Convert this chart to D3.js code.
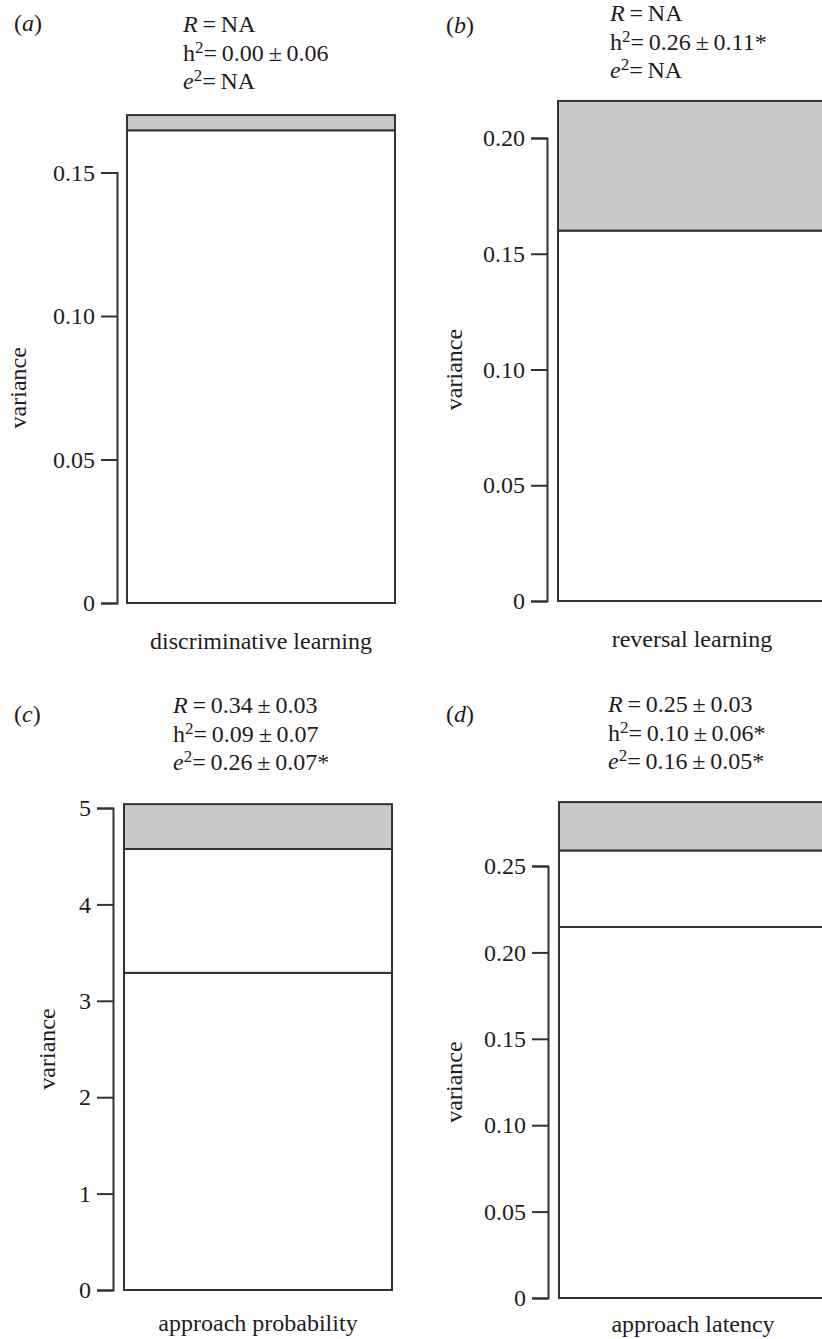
<!DOCTYPE html>
<html>
<head>
<meta charset="utf-8">
<script src="https://cdnjs.cloudflare.com/ajax/libs/d3/7.8.5/d3.min.js"></script>
<style>
  body { margin: 0; background: #fff; }
  text { font-family: "Liberation Serif", "Times New Roman", serif; fill: #1f1c1d; }
</style>
</head>
<body>
<div id="chart"></div>
<script>
// Traits and variance components
const traits = ["discriminative learning", "reversal learning", "approach probability", "approach latency"];
const residualVar = [0.1647, 0.160, 3.29, 0.2147];
const permEnvVar  = [0, 0, 1.285, 0.0443];
const additiveVar = [0.0053, 0.056, 0.465, 0.028];

// Annotation values
const panelLetters = ["a", "b", "c", "d"];
const rText  = ["NA", "NA", "0.34\u2009±\u20090.03", "0.25\u2009±\u20090.03"];
const h2Text = ["0.00\u2009±\u20090.06", "0.26\u2009±\u20090.11*", "0.09\u2009±\u20090.07", "0.10\u2009±\u20090.06*"];
const e2Text = ["NA", "NA", "0.26\u2009±\u20090.07*", "0.16\u2009±\u20090.05*"];

// Tick values and labels per panel
const tickValues = [
    [0, 0.05, 0.10, 0.15],
    [0, 0.05, 0.10, 0.15, 0.20],
    [0, 1, 2, 3, 4, 5],
    [0, 0.05, 0.10, 0.15, 0.20, 0.25]
];
const tickLabels = [
    ["0", "0.05", "0.10", "0.15"],
    ["0", "0.05", "0.10", "0.15", "0.20"],
    ["0", "1", "2", "3", "4", "5"],
    ["0", "0.05", "0.10", "0.15", "0.20", "0.25"]
];

// Panel geometry (pixels)
const layout = [
    { axisX: 117, barL: 127, barR: 395, y0: 603,  yTop: 172.5, labelY: 649,  annX: 183, annY: 32,  letterX: 14,  letterY: 31,  varX: 18 },
    { axisX: 547, barL: 558, barR: 826, y0: 601,  yTop: 138,   labelY: 647,  annX: 610, annY: 21,  letterX: 446, letterY: 33,  varX: 454 },
    { axisX: 113, barL: 124, barR: 392, y0: 1290, yTop: 808,   labelY: 1331, annX: 173, annY: 713, letterX: 14,  letterY: 722, varX: 47 },
    { axisX: 548, barL: 559, barR: 827, y0: 1298, yTop: 866,   labelY: 1332, annX: 608, annY: 712, letterX: 446, letterY: 722, varX: 454 }
];

const width = 822, height = 1339;
const fontSize = 24;
const ink = "#333";
const fills = { residual: "#fff", permEnv: "#fff", additive: "#c8c9cb" };

const svg = d3.select("#chart")
    .append("svg")
    .attr("width", width)
    .attr("height", height);

const keys = ["residual", "permEnv", "additive"];

traits.forEach((trait, i) => {
    const L = layout[i];
    const g = svg.append("g");

    const y = d3.scaleLinear()
        .domain([0, d3.max(tickValues[i])])
        .range([L.y0, L.yTop]);

    const x = d3.scaleBand()
        .domain([trait])
        .range([L.barL, L.barR]);

    const row = { trait: trait, residual: residualVar[i], permEnv: permEnvVar[i], additive: additiveVar[i] };
    const series = d3.stack().keys(keys)([row]);

    // Stacked segments (skip empty ones)
    series.forEach(s => {
        const d = s[0];
        if (d[1] - d[0] <= 0) return;
        g.append("rect")
            .attr("x", x(trait))
            .attr("width", x.bandwidth())
            .attr("y", y(d[1]))
            .attr("height", y(d[0]) - y(d[1]))
            .attr("fill", fills[s.key])
            .attr("stroke", ink)
            .attr("stroke-width", 2);
    });

    // Y axis
    const axis = g.append("g")
        .attr("transform", `translate(${L.axisX},0)`)
        .call(d3.axisLeft(y)
            .tickValues(tickValues[i])
            .tickFormat((d, k) => tickLabels[i][k])
            .tickSize(16)
            .tickPadding(6));
    axis.selectAll("path, line").attr("stroke", ink).attr("stroke-width", 2);
    axis.selectAll("text").attr("font-size", fontSize).attr("fill", "#1f1c1d");

    // Y label
    g.append("text")
        .attr("transform", `translate(${L.varX},${(L.y0 + L.yTop) / 2}) rotate(-90)`)
        .attr("text-anchor", "middle")
        .attr("dy", "0.35em")
        .attr("font-size", fontSize)
        .text("variance");

    // X label
    g.append("text")
        .attr("x", x(trait) + x.bandwidth() / 2)
        .attr("y", L.labelY)
        .attr("text-anchor", "middle")
        .attr("font-size", fontSize)
        .text(trait);

    // Panel letter
    const letter = g.append("text")
        .attr("x", L.letterX)
        .attr("y", L.letterY)
        .attr("font-size", fontSize);
    letter.append("tspan").text("(");
    letter.append("tspan").attr("font-style", "italic").text(panelLetters[i]);
    letter.append("tspan").text(")");

    // Annotation lines
    const lineGap = 28.5;
    const t1 = g.append("text").attr("x", L.annX).attr("y", L.annY).attr("font-size", fontSize);
    t1.append("tspan").attr("font-style", "italic").text("R");
    t1.append("tspan").text("\u2009=\u2009" + rText[i]);

    const t2 = g.append("text").attr("x", L.annX).attr("y", L.annY + lineGap).attr("font-size", fontSize);
    t2.append("tspan").text("h");
    t2.append("tspan").attr("font-size", 17).attr("dy", -8).text("2");
    t2.append("tspan").attr("dy", 8).text("=\u2009" + h2Text[i]);

    const t3 = g.append("text").attr("x", L.annX).attr("y", L.annY + 2 * lineGap).attr("font-size", fontSize);
    t3.append("tspan").attr("font-style", "italic").text("e");
    t3.append("tspan").attr("font-size", 17).attr("dy", -8).text("2");
    t3.append("tspan").attr("dy", 8).text("=\u2009" + e2Text[i]);
});
</script>
</body>
</html>
